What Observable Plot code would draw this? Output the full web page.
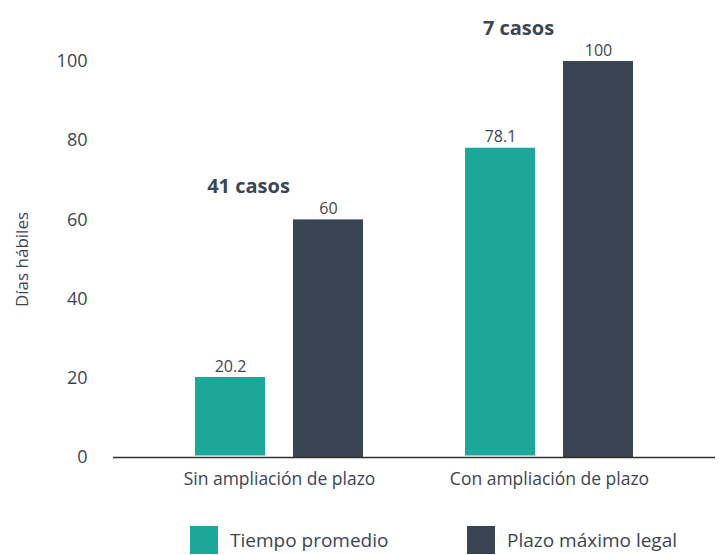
<!DOCTYPE html>
<html>
<head>
<meta charset="utf-8">
<script src="https://cdn.jsdelivr.net/npm/d3@7"></script>
<script src="https://cdn.jsdelivr.net/npm/@observablehq/plot@0.6"></script>
<style>
  body { margin: 0; background: #fff; font-family: "Open Sans", sans-serif; color: #3b4554; }
  #legend { display: flex; align-items: center; padding-left: 190px; margin-top: 11px; }
  .item { display: flex; align-items: center; }
  .sw { width: 28px; height: 28px; margin-right: 12px; }
  .lbl { font-size: 19px; }
</style>
</head>
<body>
<div id="chart"></div>
<div id="legend"></div>
<script>
const categories = ["Sin ampliación de plazo", "Con ampliación de plazo"];
const tiempoPromedio = [20.2, 78.1];
const plazoMaximo = [60, 100];
const casos = ["41 casos", "7 casos"];
const seriesNames = ["Tiempo promedio", "Plazo máximo legal"];
const colors = ["#1ba89b", "#394553"];
const yTicks = [0, 20, 40, 60, 80, 100];
const yLabel = "Días hábiles";

const teal = categories.map((c, i) => ({cat: c, v: tiempoPromedio[i]}));
const dark = categories.map((c, i) => ({cat: c, v: plazoMaximo[i]}));
const notes = categories.map((c, i) => ({cat: c, label: casos[i], top: Math.max(tiempoPromedio[i], plazoMaximo[i])}));

const txt = "#3b4554";
const chart = Plot.plot({
  width: 719,
  height: 515,
  marginLeft: 113,
  marginRight: 4,
  marginTop: 61,
  marginBottom: 58,
  style: {fontFamily: "Open Sans", fontSize: "15px", color: txt, background: "#fff"},
  x: {domain: categories, paddingInner: 0.2, paddingOuter: 0.2148, label: null},
  y: {domain: [0, 100], label: null},
  marks: [
    Plot.axisY({ticks: yTicks, tickSize: 0, tickPadding: 26, fontSize: 18, label: null}),
    Plot.text([yLabel], {frameAnchor: "left", textAnchor: "middle", rotate: -90, dx: -91, fontSize: 17, fill: txt}),
    Plot.axisX({tickSize: 0, tickPadding: 15, label: null, fontSize: 17.5}),
    Plot.barY(teal, {x: "cat", y: "v", fill: colors[0], insetLeft: 24, insetRight: 122, insetBottom: 1.5}),
    Plot.barY(dark, {x: "cat", y: "v", fill: colors[1], insetLeft: 122, insetRight: 24}),
    Plot.text(teal, {x: "cat", y: "v", text: d => d.v.toFixed(1), dx: -49, dy: -6, lineAnchor: "bottom", fontSize: 16, fill: txt}),
    Plot.text(dark, {x: "cat", y: "v", text: d => String(d.v), dx: 49, dy: -6, lineAnchor: "bottom", fontSize: 16, fill: txt}),
    Plot.text(notes, {x: "cat", y: "top", text: "label", dx: -31, dy: -27, lineAnchor: "bottom", fontSize: 20, fontWeight: "bold", fill: txt}),
    Plot.ruleY([0], {stroke: "#35302e", strokeWidth: 1.6})
  ]
});
document.getElementById("chart").append(chart);

const legend = document.getElementById("legend");
seriesNames.forEach((name, i) => {
  const item = document.createElement("div");
  item.className = "item";
  if (i === 0) item.style.width = "277px";
  const sw = document.createElement("div");
  sw.className = "sw";
  sw.style.background = colors[i];
  const lb = document.createElement("span");
  lb.className = "lbl";
  lb.textContent = name;
  item.append(sw, lb);
  legend.append(item);
});
</script>
</body>
</html>
